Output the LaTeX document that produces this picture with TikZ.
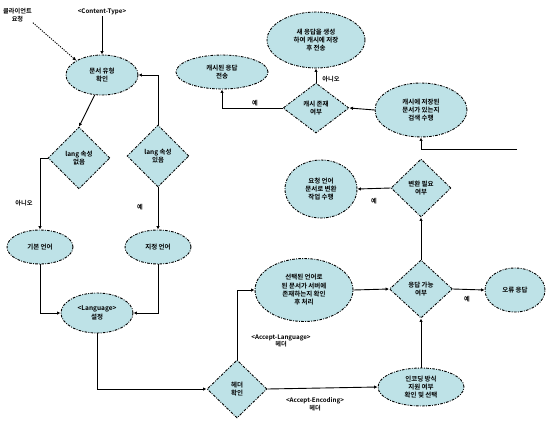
\documentclass[tikz,border=0pt]{standalone}
\usepackage{fontspec}
\setmainfont{Noto Sans CJK KR}[BoldFont={Noto Sans CJK KR Bold}]
\usetikzlibrary{shapes.geometric,arrows.meta}
\definecolor{boxfill}{RGB}{190,226,231}
\tikzset{
  x=1pt,y=-1pt,
  every node/.style={font=\fontsize{6.5}{8.3}\selectfont\bfseries,align=center},
  bord/.style={draw=black,line width=0.9pt,dash pattern=on 2.6pt off 1.3pt on 0.9pt off 1.3pt,fill=boxfill,inner sep=0pt},
  ell/.style={bord,ellipse},
  dia/.style={bord,diamond},
  conn/.style={draw=black,line width=0.9pt,-{Latex[length=3.5pt,width=3.5pt]}},
  lbl/.style={font=\fontsize{6.2}{7.6}\selectfont\bfseries,inner sep=1pt}
}
\begin{document}
\begin{tikzpicture}
\useasboundingbox (0,0) rectangle (547,421);
% top-left
\node[lbl,anchor=north west] (tl) at (2,7) {클라이언트\\요청};
\node[lbl] (ct) at (102,12) {<Content-Type>};
\node[ell,minimum width=72,minimum height=40] (e1) at (102,75) {문서 유형\\확인};
\node[dia,minimum width=62,minimum height=62] (d1) at (79,158) {lang 속성\\없음};
\node[dia,minimum width=62,minimum height=62] (d2) at (158,156) {lang 속성\\있음};
\node[ell,minimum width=66,minimum height=34] (e2) at (40,247) {기본 언어};
\node[ell,minimum width=66,minimum height=34] (e3) at (158,247) {지정 언어};
\node[ell,minimum width=72,minimum height=40] (e4) at (97,313) {<Language>\\설정};
\node[dia,minimum width=60,minimum height=58] (d3) at (237,389) {헤더\\확인};
\node[ell,minimum width=98,minimum height=63] (e5) at (304,290) {선택된 언어로\\된 문서가 서버에\\존재하는지 확인\\후 처리};
\node[ell,minimum width=86,minimum height=38] (e6) at (421,387) {인코딩 방식\\지원 여부\\확인 및 선택};
\node[dia,minimum width=63,minimum height=58] (d4) at (421,289) {응답 가능\\여부};
\node[ell,minimum width=60,minimum height=44] (e7) at (515,290) {오류 응답};
\node[dia,minimum width=60,minimum height=58] (d5) at (421,188) {변환 필요\\여부};
\node[ell,minimum width=72,minimum height=58] (e8) at (321,189) {요청 언어\\문서로 변환\\작업 수행};
\node[ell,minimum width=92,minimum height=54] (e9) at (421,110) {캐시에 저장된\\문서가 있는지\\검색 수행};
\node[dia,minimum width=66,minimum height=50] (d6) at (316,108) {캐시 존재\\여부};
\node[ell,minimum width=98,minimum height=56] (e10) at (316,40) {새 응답을 생성\\하여 캐시에 저장\\후 전송};
\node[ell,minimum width=92,minimum height=34] (e11) at (222,72) {캐시된 응답\\전송};
% labels
\node[lbl] (l1) at (24,203) {아니오};
\node[lbl] (l2) at (140,207) {예};
\node[lbl] (l3) at (281,341) {<Accept-Language>\\헤더};
\node[lbl] (l4) at (315,404) {<Accept-Encoding>\\헤더};
\node[lbl] (l5) at (467,299) {예};
\node[lbl] (l6) at (374,201) {예};
\node[lbl] (l7) at (331,79) {아니오};
\node[lbl] (l8) at (255,103) {예};
\coordinate (inR) at (517,149);
% connectors
\draw[conn,dash pattern=on 1.2pt off 1.2pt] (tl.south east) -- (e1.north west);
\draw[conn] (ct.south) -- (e1.north);
\draw[conn] (e1.250) -- (d1.north);
\draw[conn] (d2.north) |- (e1.east);
\draw[conn] (d1.west) -| (e2.north);
\draw[conn] (d2.south) -- (e3.north);
\draw[conn] (e2.south) |- (e4.west);
\draw[conn] (e3.south) |- (e4.east);
\draw[conn] (e4.south) |- (d3.west);
\draw[conn] (d3.north) |- (e5.west);
\draw[conn] (d3.east) -- (e6.west);
\draw[conn] (e5.east) -- (d4.west);
\draw[conn] (e6.north) -- (d4.south);
\draw[conn] (d4.east) -- (e7.west);
\draw[conn] (d4.north) -- (d5.south);
\draw[conn] (d5.west) -- (e8.east);
\draw[conn] (inR) -| (e9.south);
\draw[conn] (e9.west) -- (d6.east);
\draw[conn] (d6.north) -- (e10.south);
\draw[conn] (d6.west) -| (e11.south);
\end{tikzpicture}
\end{document}
